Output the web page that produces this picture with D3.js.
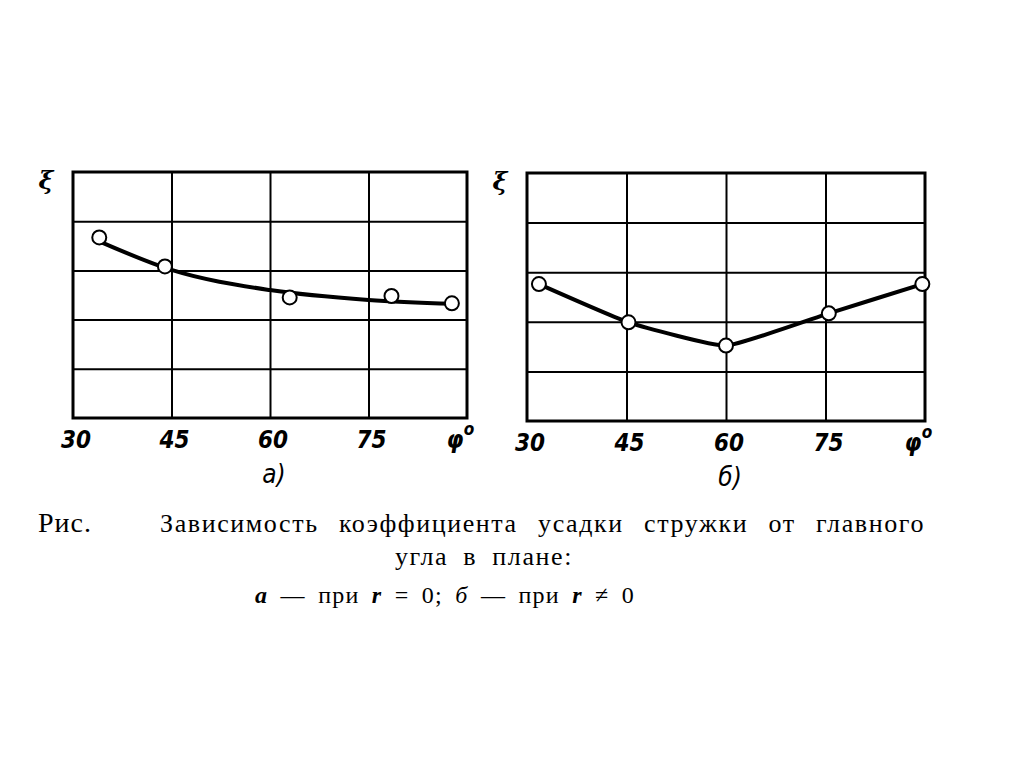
<!DOCTYPE html>
<html><head><meta charset="utf-8">
<script src="https://cdn.jsdelivr.net/npm/d3@7"></script>
<style>body{margin:0;background:#fff}svg{display:block}</style>
</head><body>
<svg id="c" width="1024" height="767"></svg>
<script>
// ---- data ----
const xTicks = [30, 45, 60, 75];
const xTickLabels = ["30", "45", "60", "75"];
const yGrid = [1, 2, 3, 4];
const xDomain = [30, 90];
const yDomain = [0, 5];
// panel a) measured points (φ, ξ in grid units)
const phiA = [34, 44, 63, 78.5, 87.7];
const xiA  = [3.67, 3.08, 2.45, 2.48, 2.33];
// panel a) fitted curve
const fitPhiA = [34, 45, 60, 75, 88];
const fitXiA  = [3.59, 3.01, 2.60, 2.40, 2.32];
// panel б) measured points
const phiB = [31.8, 45.3, 60, 75.5, 89.6];
const xiB  = [2.76, 1.99, 1.52, 2.17, 2.76];
const panelLabels = ["а)", "б)"];
const captionLine1 = "Зависимость коэффициента усадки стружки от главного";
const captionLine2 = "угла в плане:";

const svg = d3.select("#c");
const tickFont = "'Liberation Sans Narrow','DejaVu Sans Condensed',sans-serif";

function panel(box, pts, fit, label, curveType) {
  const x = d3.scaleLinear().domain(xDomain).range([box.x0, box.x1]);
  const y = d3.scaleLinear().domain(yDomain).range([box.y1, box.y0]);
  const g = svg.append("g");
  g.append("g").attr("transform", `translate(0,${box.y1})`)
    .call(d3.axisBottom(x).tickValues(xTicks.slice(1)).tickSize(-(box.y1 - box.y0)).tickFormat(""))
    .call(s => s.select(".domain").remove())
    .selectAll("line").attr("stroke", "#000").attr("stroke-width", 2);
  g.append("g").attr("transform", `translate(${box.x0},0)`)
    .call(d3.axisLeft(y).tickValues(yGrid).tickSize(-(box.x1 - box.x0)).tickFormat(""))
    .call(s => s.select(".domain").remove())
    .selectAll("line").attr("stroke", "#000").attr("stroke-width", 2);
  g.append("rect").attr("x", box.x0).attr("y", box.y0)
    .attr("width", box.x1 - box.x0).attr("height", box.y1 - box.y0)
    .attr("fill", "none").attr("stroke", "#000").attr("stroke-width", 3);
  g.selectAll("text.tk").data(xTicks).enter().append("text")
    .attr("x", d => x(d) + 3).attr("y", box.y1 + 30)
    .attr("text-anchor", "middle")
    .attr("font-family", tickFont).attr("font-style", "italic").attr("font-weight", "bold")
    .attr("font-size", 24).text((d, i) => xTickLabels[i]);
  g.append("text").attr("x", x(90) - 12).attr("y", box.y1 + 30)
    .attr("text-anchor", "middle")
    .attr("font-family", tickFont).attr("font-style", "italic").attr("font-weight", "bold")
    .attr("font-size", 24).text("φ");
  g.append("text").attr("x", x(90) + 2).attr("y", box.y1 + 17)
    .attr("text-anchor", "middle")
    .attr("font-family", tickFont).attr("font-style", "italic").attr("font-weight", "bold")
    .attr("font-size", 17).text("o");
  g.append("text").attr("x", box.x0 - 27).attr("y", box.y0 + 17)
    .attr("text-anchor", "middle")
    .attr("font-family", "'DejaVu Serif',serif").attr("font-style", "italic").attr("font-weight", "bold")
    .attr("font-size", 25).text("ξ");
  g.append("text").attr("x", x(60) + 4).attr("y", box.y1 + 65)
    .attr("text-anchor", "middle")
    .attr("font-family", tickFont).attr("font-style", "italic")
    .attr("font-size", 26).text(label);
  const line = d3.line().x(d => x(d[0])).y(d => y(d[1])).curve(curveType);
  g.append("path").attr("d", line(fit)).attr("fill", "none")
    .attr("stroke", "#000").attr("stroke-width", 4).attr("stroke-linecap", "round");
  g.selectAll("circle").data(pts).enter().append("circle")
    .attr("cx", d => x(d[0])).attr("cy", d => y(d[1])).attr("r", 7)
    .attr("fill", "#fff").attr("stroke", "#000").attr("stroke-width", 2);
}

const ptsA = phiA.map((p, i) => [p, xiA[i]]);
const fitA = fitPhiA.map((p, i) => [p, fitXiA[i]]);
const ptsB = phiB.map((p, i) => [p, xiB[i]]);

panel({x0: 73, x1: 467, y0: 172, y1: 418}, ptsA, fitA, panelLabels[0], d3.curveMonotoneX);
panel({x0: 527, x1: 925, y0: 173, y1: 421}, ptsB, ptsB, panelLabels[1], d3.curveCardinal.tension(0.6));

// caption
const serif = "'Liberation Serif','DejaVu Serif',serif";
function fitWords(t, width) {
  const w0 = t.node().getComputedTextLength();
  const txt = t.text();
  const n = (txt.match(/ /g) || []).length;
  if (n > 0) t.attr("word-spacing", Math.max(0, (width - w0) / n));
}
svg.append("text").attr("x", 38).attr("y", 532).attr("font-family", serif)
  .attr("font-size", 28).attr("letter-spacing", 1).text("Рис.");
const t1 = svg.append("text").attr("x", 160).attr("y", 532).attr("font-family", serif)
  .attr("font-size", 26).attr("letter-spacing", 1.6).text(captionLine1);
fitWords(t1, 765);
const t2 = svg.append("text").attr("x", 395).attr("y", 565).attr("font-family", serif)
  .attr("font-size", 26).attr("letter-spacing", 1.6).text(captionLine2);
fitWords(t2, 178);
const l3 = svg.append("text").attr("x", 255).attr("y", 603).attr("font-family", serif)
  .attr("font-size", 24).attr("letter-spacing", 1.2);
l3.append("tspan").attr("font-style", "italic").attr("font-weight", "bold").text("а");
l3.append("tspan").text(" — при ");
l3.append("tspan").attr("font-style", "italic").attr("font-weight", "bold").text("r");
l3.append("tspan").text(" = 0; ");
l3.append("tspan").attr("font-style", "italic").text("б");
l3.append("tspan").text(" — при ");
l3.append("tspan").attr("font-style", "italic").attr("font-weight", "bold").text("r");
l3.append("tspan").text(" ≠ 0");
fitWords(l3, 380);
</script>
</body></html>
